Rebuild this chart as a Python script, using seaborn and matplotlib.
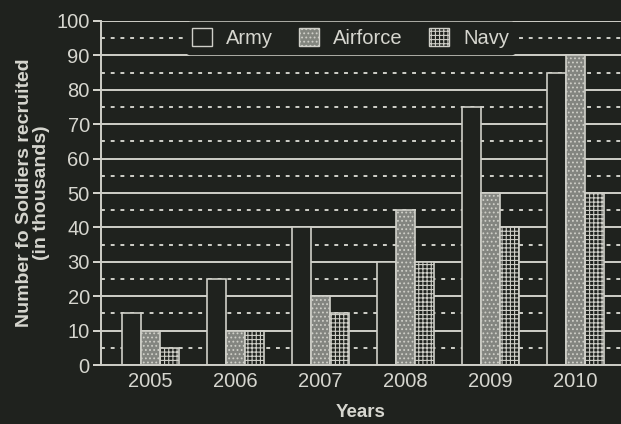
import matplotlib
matplotlib.use("Agg")
import matplotlib.pyplot as plt
import seaborn as sns
import pandas as pd
from matplotlib.patches import Patch

years = ["2005", "2006", "2007", "2008", "2009", "2010"]
army = [15, 25, 40, 30, 75, 85]
airforce = [10, 10, 20, 45, 50, 90]
navy = [5, 10, 15, 30, 40, 50]
services = ["Army", "Airforce", "Navy"]

df = pd.DataFrame({
    "Years": years * 3,
    "Value": army + airforce + navy,
    "Service": [s for s in services for _ in years],
})

BG = "#1f221e"
FG = "#d6d6cf"
LINE = "#cfcfc8"

sns.set_theme(style="dark")
plt.rcParams["font.family"] = ["Liberation Sans", "DejaVu Sans"]
plt.rcParams["hatch.linewidth"] = 0.8

fig = plt.figure(figsize=(6.21, 4.24), dpi=100, facecolor=BG)
ax = fig.add_axes([0.1626, 0.139, 0.8374, 0.8115])
ax.set_facecolor(BG)

fills = {"Army": BG, "Airforce": "#83867f", "Navy": BG}
hatches = {"Army": None, "Airforce": "....", "Navy": "++++"}
sns.barplot(data=df, x="Years", y="Value", hue="Service", hue_order=services,
            palette=fills, width=0.67, ax=ax, legend=False, zorder=3,
            edgecolor=LINE, linewidth=1.2)

for cont, s in zip(ax.containers, services):
    for bar in cont:
        bar.set_edgecolor(LINE)
        if hatches[s]:
            bar.set_hatch(hatches[s])

ax.set_ylim(0, 100)
ax.set_xlim(-0.58, 5.54)
ax.set_yticks(range(0, 101, 10))
for v in range(10, 101, 10):
    ax.axhline(v, color=LINE, lw=1.4, zorder=1)
for v in range(5, 100, 10):
    ax.axhline(v, color=LINE, lw=1.4, ls=(0, (2, 3)), zorder=1)

for sp in ["top", "right"]:
    ax.spines[sp].set_visible(False)
for sp in ["left", "bottom"]:
    ax.spines[sp].set_color(LINE)
    ax.spines[sp].set_linewidth(1.4)
    ax.spines[sp].set_zorder(4)

ax.tick_params(axis="y", colors=FG, labelsize=14.5, length=6, width=1.4, direction="out", left=True, pad=2)
ax.tick_params(axis="x", colors=FG, labelsize=14.5, length=0, pad=5)
for t in ax.get_yticklabels() + ax.get_xticklabels():
    t.set_color(FG)

ax.set_ylabel("Number fo Soldiers recruited\n(in thousands)", color=FG, fontsize=14,
              fontweight="bold", labelpad=5, linespacing=1.0)
ax.set_xlabel("Years", color=FG, fontsize=13.5, fontweight="bold", labelpad=9)

handles = [Patch(facecolor=fills[s], edgecolor=LINE, hatch=hatches[s], label=s) for s in services]
leg = ax.legend(handles=handles, ncol=3, loc="center", bbox_to_anchor=(0.48, 0.95),
                frameon=True, facecolor=BG, edgecolor=BG, framealpha=1, fontsize=14.5,
                handlelength=1.0, handleheight=1.0, columnspacing=1.3, handletextpad=0.7,
                borderpad=0.3)
leg.set_zorder(5)
for t in leg.get_texts():
    t.set_color(FG)

fig.savefig("out.png", dpi=100, facecolor=BG)
